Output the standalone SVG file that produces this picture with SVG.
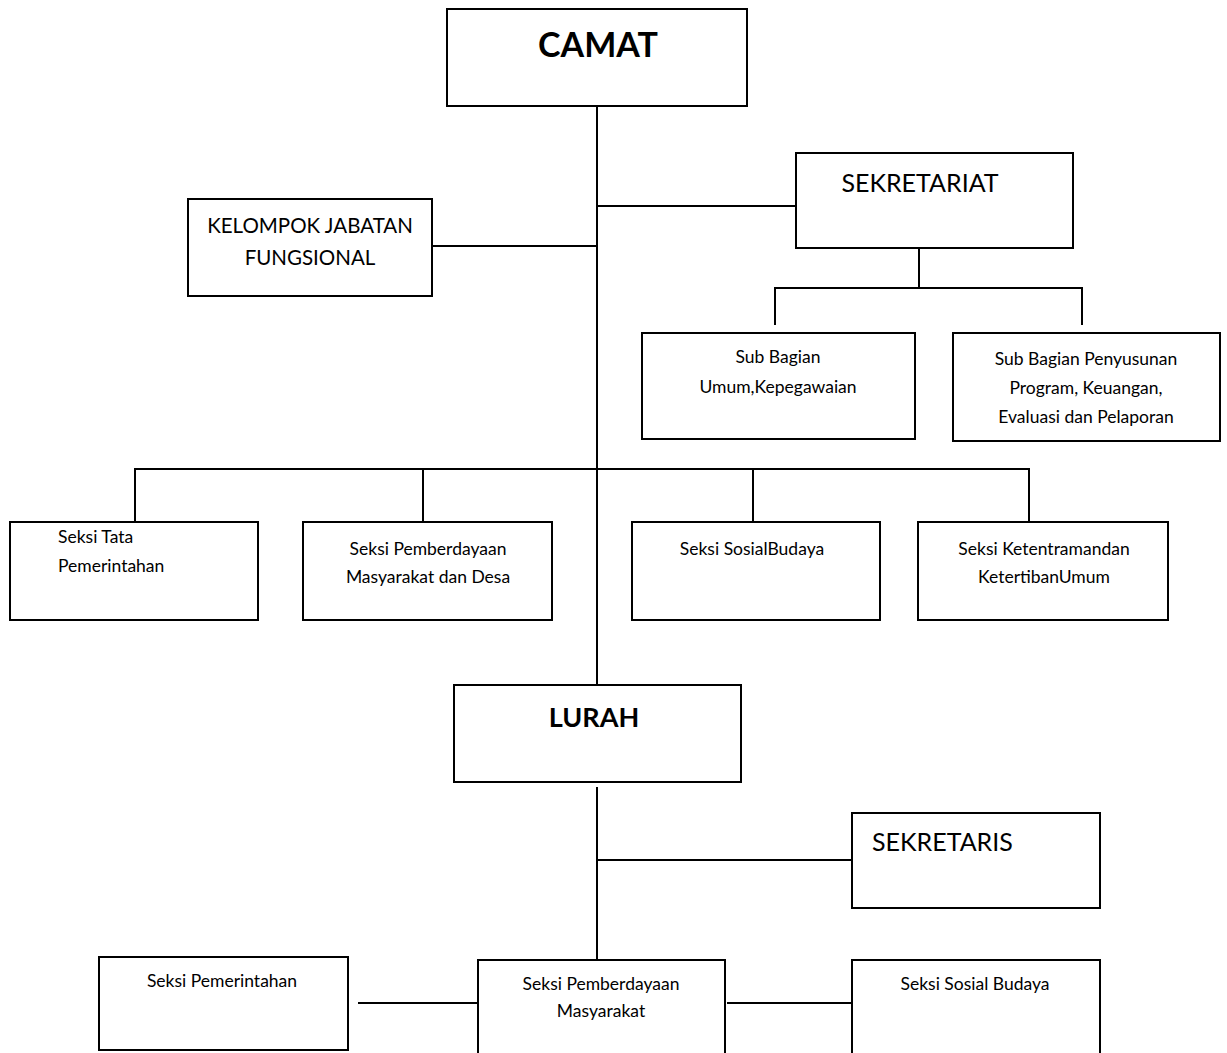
<svg xmlns="http://www.w3.org/2000/svg" width="1227" height="1053" viewBox="0 0 1227 1053">
<style>
.box{fill:#fff;stroke:#000;stroke-width:2}
.ln{stroke:#000;stroke-width:2;fill:none}
text{font-family:Lato,"Liberation Sans",sans-serif;fill:#000}
.s{font-size:17.5px;text-anchor:middle}
.sl{font-size:17.5px;text-anchor:start}
.m{font-size:20.5px;text-anchor:middle}
.l{font-size:25px}
.b1{font-size:34px;font-weight:bold;text-anchor:middle}
.b2{font-size:27px;font-weight:bold;text-anchor:middle}
</style>
<rect width="1227" height="1053" fill="#fff"/>
<g id="connectors">
<path class="ln" d="M597 102V685"/>
<path class="ln" d="M597 206H796"/>
<path class="ln" d="M432 246H597"/>
<path class="ln" d="M919 248V288M775 288H1082M775 287V325M1082 287V325"/>
<path class="ln" d="M135 469H1029M135 468V530M423 468V522M753 468V522M1029 468V522"/>
<path class="ln" d="M597 787V965"/>
<path class="ln" d="M597 860H852"/>
<path class="ln" d="M358 1003H478M727 1003H852"/>
</g>
<g id="camat"><rect class="box" x="447" y="9" width="300" height="97"/><text class="b1" x="598" y="57">CAMAT</text></g>
<g id="sekretariat"><rect class="box" x="796" y="153" width="277" height="95"/><text class="l" x="920" y="192" text-anchor="middle">SEKRETARIAT</text></g>
<g id="kjf"><rect class="box" x="188" y="199" width="244" height="97"/><text class="m" x="310" y="233">KELOMPOK JABATAN</text><text class="m" x="310" y="265">FUNGSIONAL</text></g>
<g id="subumum"><rect class="box" x="642" y="333" width="273" height="106"/><text class="s" x="778" y="363">Sub Bagian</text><text class="s" x="778" y="393">Umum,Kepegawaian</text></g>
<g id="subprogram"><rect class="box" x="953" y="333" width="267" height="108"/><text class="s" x="1086" y="365">Sub Bagian Penyusunan</text><text class="s" x="1086" y="394">Program, Keuangan,</text><text class="s" x="1086" y="423">Evaluasi dan Pelaporan</text></g>
<g id="seksitata"><rect class="box" x="10" y="522" width="248" height="98"/><text class="sl" x="58" y="543">Seksi Tata</text><text class="sl" x="58" y="572">Pemerintahan</text></g>
<g id="seksipmd"><rect class="box" x="303" y="522" width="249" height="98"/><text class="s" x="428" y="555">Seksi Pemberdayaan</text><text class="s" x="428" y="583">Masyarakat dan Desa</text></g>
<g id="seksisosbud"><rect class="box" x="632" y="522" width="248" height="98"/><text class="s" x="752" y="555">Seksi SosialBudaya</text></g>
<g id="seksitrantib"><rect class="box" x="918" y="522" width="250" height="98"/><text class="s" x="1044" y="555">Seksi Ketentramandan</text><text class="s" x="1044" y="583">KetertibanUmum</text></g>
<g id="lurah"><rect class="box" x="454" y="685" width="287" height="97"/><text class="b2" x="594" y="727">LURAH</text></g>
<g id="sekretaris"><rect class="box" x="852" y="813" width="248" height="95"/><text class="l" x="872" y="851">SEKRETARIS</text></g>
<g id="seksipem"><rect class="box" x="99" y="957" width="249" height="93"/><text class="s" x="222" y="987">Seksi Pemerintahan</text></g>
<g id="seksipm"><rect class="box" x="478" y="960" width="247" height="100"/><text class="s" x="601" y="990">Seksi Pemberdayaan</text><text class="s" x="601" y="1017">Masyarakat</text></g>
<g id="seksisb"><rect class="box" x="852" y="960" width="248" height="100"/><text class="s" x="975" y="990">Seksi Sosial Budaya</text></g>
</svg>
